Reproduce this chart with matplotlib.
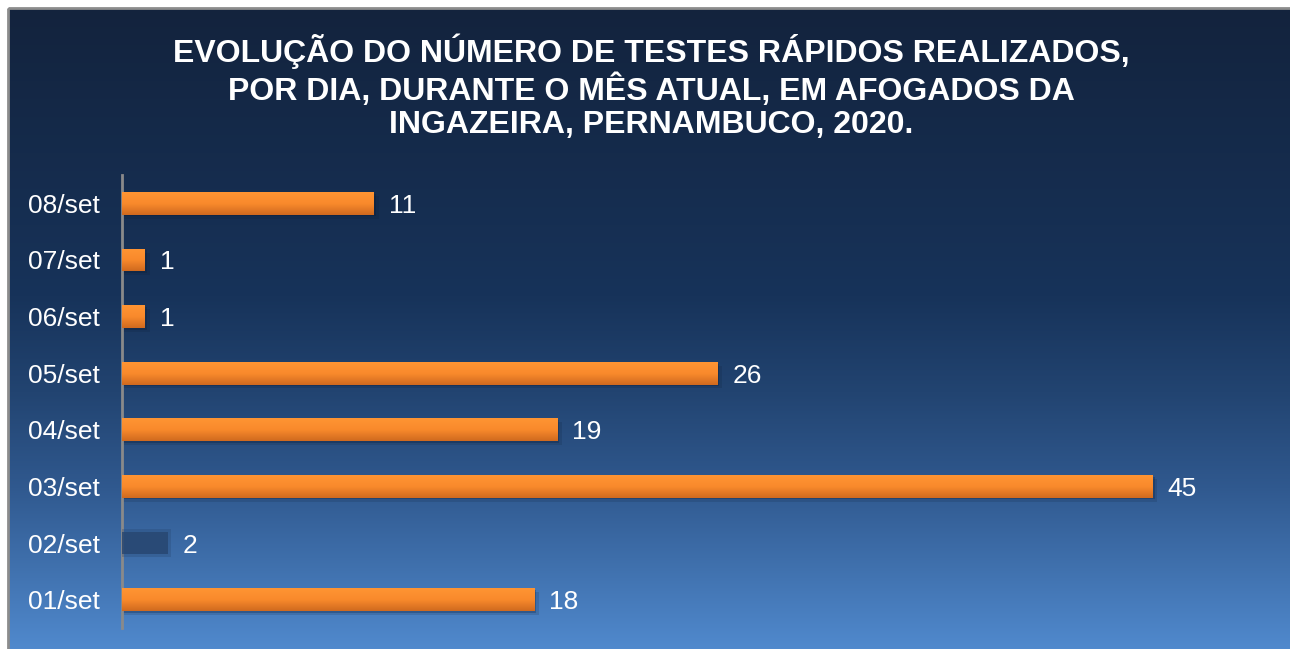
import numpy as np
import matplotlib.pyplot as plt
from matplotlib.colors import LinearSegmentedColormap
from matplotlib.patches import Rectangle

days = ["01/set", "02/set", "03/set", "04/set", "05/set", "06/set", "07/set", "08/set"]
tests = [18, 2, 45, 19, 26, 1, 1, 11]
bar_colors = ["orange", "blue", "orange", "orange", "orange", "orange", "orange", "orange"]

title = ("EVOLUÇÃO DO NÚMERO DE TESTES RÁPIDOS REALIZADOS,\n"
         "POR DIA, DURANTE O MÊS ATUAL, EM AFOGADOS DA\n"
         "INGAZEIRA, PERNAMBUCO, 2020.")

plt.rcParams['font.family'] = ['Liberation Sans', 'DejaVu Sans']

W, H = 1290, 649
fig = plt.figure(figsize=(W / 100, H / 100), dpi=100)
fig.patch.set_facecolor("white")

# background panel with vertical gradient
bg = fig.add_axes([0, 0, 1, 1])
bg.set_xlim(0, W)
bg.set_ylim(H, 0)
bg.axis("off")
bg_cmap = LinearSegmentedColormap.from_list(
    "bg", [(0.0, "#13233d"), (0.45, "#17335a"), (0.6, "#224471"),
           (0.75, "#30598f"), (1.0, "#5089cd")])
grad = np.linspace(0, 1, 256).reshape(-1, 1)
bg.imshow(grad, cmap=bg_cmap, aspect="auto", extent=[8, W, H, 8], zorder=0)
bg.add_patch(Rectangle((8, 8), W, H, fill=False, edgecolor="#8c8c8c", lw=2, zorder=1))
bg.text(651, 87, title, ha="center", va="center", color="white",
        fontsize=23, fontweight="bold", linespacing=1.15)

# main chart
ax = fig.add_axes([122 / W, (H - 628) / H, 1145 / W, (628 - 175) / H])
ax.patch.set_alpha(0)
ax.set_xlim(0, 50)
ax.set_ylim(-0.5, len(days) - 0.5)

orange_cmap = LinearSegmentedColormap.from_list("org", ["#d06a1f", "#f98a2c", "#ff9533"])
ypos = np.arange(len(days))
bars = ax.barh(ypos, tests, height=0.4, color="none", zorder=3)
for b, v, c, y in zip(bars, tests, bar_colors, ypos):
    x0, y0, w, h = b.get_x(), b.get_y(), b.get_width(), b.get_height()
    if c == "orange":
        # soft shadow below
        for k, a in [(0.03, 0.25), (0.07, 0.15)]:
            ax.add_patch(Rectangle((x0, y0 - k), w + k * 3, h, facecolor="#0b1a30",
                                   alpha=a, lw=0, zorder=2))
        im = ax.imshow(np.linspace(0, 1, 50).reshape(-1, 1), cmap=orange_cmap,
                       aspect="auto", extent=[x0, x0 + w, y0, y0 + h],
                       origin="lower", zorder=3)
        im.set_clip_path(b)
    else:
        for k, a in [(0.0, 0.8), (0.04, 0.3)]:
            ax.add_patch(Rectangle((x0, y0 - k), w + k * 3, h + 2 * k, facecolor="#274670",
                                   alpha=a, lw=0, zorder=3))
    ax.text(v + 0.65, y, str(v), va="center_baseline", ha="left", color="white", fontsize=19)

ax.set_xlim(0, 50)
ax.set_ylim(-0.5, len(days) - 0.5)
ax.set_yticks(ypos)
ax.set_yticklabels(days, color="white", fontsize=19)
ax.tick_params(axis="y", length=0, pad=16)
ax.set_xticks([])
for s in ["top", "right", "bottom"]:
    ax.spines[s].set_visible(False)
ax.spines["left"].set_color("#8a8a8a")
ax.spines["left"].set_linewidth(2)

fig.savefig("out.png", dpi=100)
